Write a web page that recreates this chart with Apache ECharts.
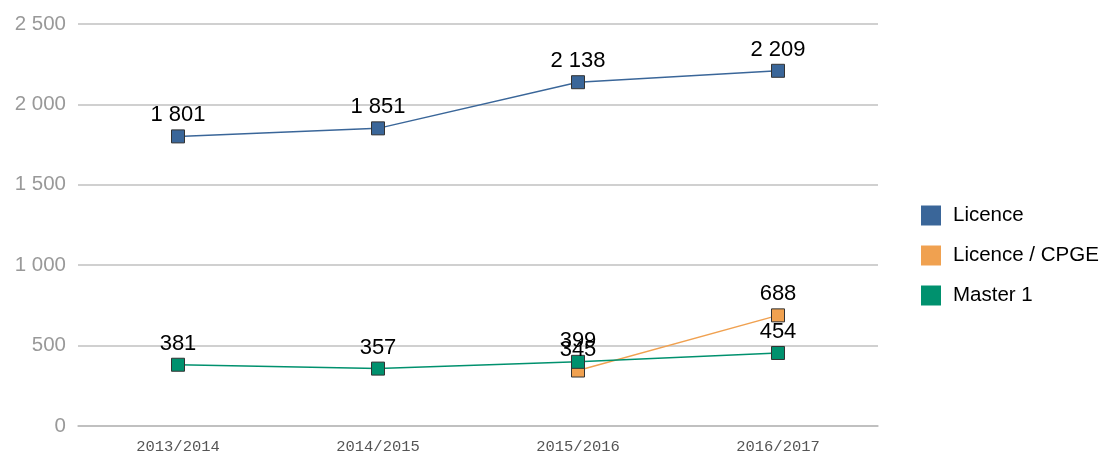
<!DOCTYPE html>
<html>
<head>
<meta charset="utf-8">
<script src="https://cdn.jsdelivr.net/npm/echarts@6/dist/echarts.min.js"></script>
<style>
  html, body { margin: 0; padding: 0; background: #fff; }
  #myChart { width: 1109px; height: 457px; }
</style>
</head>
<body>
<div id="myChart"></div>
<script>
// données
var categories = ['2013/2014', '2014/2015', '2015/2016', '2016/2017'];
var licence = [1801, 1851, 2138, 2209];
var licenceCpge = [null, null, 345, 688];
var master1 = [381, 357, 399, 454];
var yTicks = [0, 500, 1000, 1500, 2000, 2500];

// séparateur de milliers avec espace
function fmt(v) {
  return String(v).replace(/\B(?=(\d{3})+(?!\d))/g, ' ');
}

var myChart = echarts.init(document.getElementById('myChart'));

function serie(name, data, color) {
  return {
    name: name,
    type: 'line',
    data: data,
    symbol: 'rect',
    symbolSize: 13,
    showAllSymbol: true,
    connectNulls: false,
    lineStyle: { color: color, width: 1.5 },
    itemStyle: { color: color, borderColor: '#333', borderWidth: 1 },
    label: {
      show: true,
      position: 'top',
      distance: 3,
      color: '#000',
      fontSize: 22,
      fontFamily: 'Liberation Sans',
      formatter: function (p) { return fmt(p.value); }
    },
    emphasis: { disabled: true },
    animation: false
  };
}

myChart.setOption({
  backgroundColor: '#fff',
  grid: { left: 78, right: 231, top: 24, bottom: 31, containLabel: false },
  legend: {
    orient: 'vertical',
    left: 916,
    top: 200,
    itemWidth: 20,
    itemHeight: 20,
    itemGap: 19,
    icon: 'rect',
    textStyle: { fontSize: 20.5, color: '#000', fontFamily: 'Liberation Sans', padding: [0, 0, 0, 7] },
    data: [
      { name: 'Licence', itemStyle: { borderWidth: 0 } },
      { name: 'Licence / CPGE', itemStyle: { borderWidth: 0 } },
      { name: 'Master 1', itemStyle: { borderWidth: 0 } }
    ]
  },
  xAxis: {
    type: 'category',
    data: categories,
    boundaryGap: true,
    axisLine: { show: true, lineStyle: { color: '#bbb', width: 1.5 } },
    axisTick: { show: false },
    axisLabel: {
      color: '#555',
      fontSize: 15.5,
      fontFamily: 'Liberation Mono',
      margin: 13
    }
  },
  yAxis: {
    type: 'value',
    min: yTicks[0],
    max: yTicks[yTicks.length - 1],
    interval: 500,
    axisLine: { show: false },
    axisTick: { show: false },
    axisLabel: {
      color: '#999',
      fontSize: 20.5,
      fontFamily: 'Liberation Sans',
      margin: 12,
      formatter: function (v) { return fmt(v); }
    },
    splitLine: { lineStyle: { color: '#c0c0c0', width: 1.5 } }
  },
  series: [
    serie('Licence', licence, '#3a6699'),
    serie('Licence / CPGE', licenceCpge, '#f0a150'),
    serie('Master 1', master1, '#00916e')
  ]
});
</script>
</body>
</html>
